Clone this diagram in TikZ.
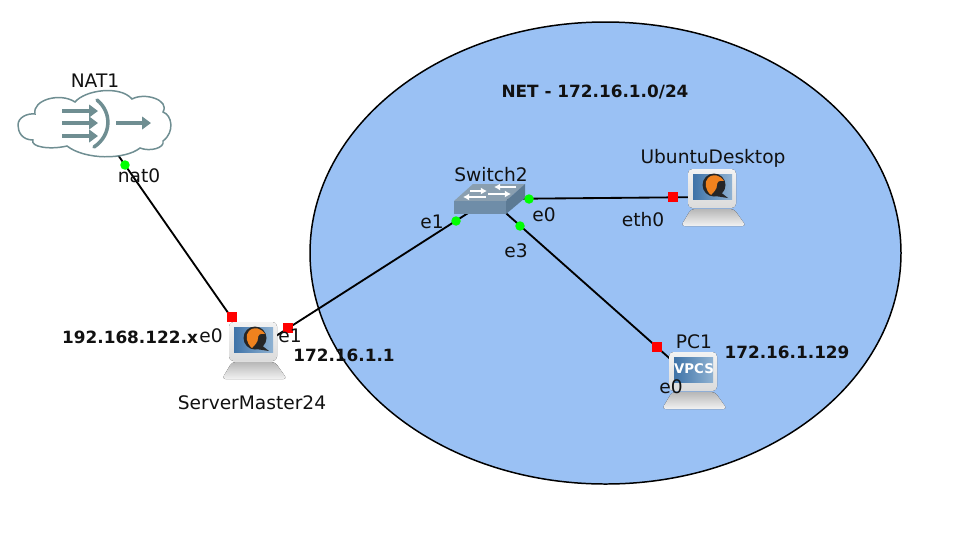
\documentclass[tikz,border=0pt]{standalone}
\usepackage{fontspec}
\setmainfont{DejaVu Sans}
\usetikzlibrary{calc,arrows.meta,positioning,shapes.geometric}
\definecolor{netblue}{HTML}{9AC1F4}
\definecolor{natgray}{HTML}{6F8E92}
\definecolor{scrblue}{HTML}{3F73A8}
\definecolor{scrlight}{HTML}{8FB2D2}
\definecolor{swtop}{HTML}{8A9FB0}
\definecolor{swfront}{HTML}{6F8DA8}
\definecolor{swside}{HTML}{5C7A94}
\definecolor{birdorange}{HTML}{F0821E}
\definecolor{darktext}{HTML}{111111}
% computer drawn round a named node
\newcommand{\hostbody}[1]{
\begin{scope}[shift={(#1.center)}]
\fill[top color=black!28,bottom color=black!5,rounded corners=2pt] (-22,12)--(21,12)--(33,29)--(-32,29)--cycle;
\fill[top color=black!5,bottom color=black!14,rounded corners=2.5pt] (-25,-28) rectangle (23,11);
\fill[left color=scrblue,right color=scrlight] (-20,-23) rectangle (19,2);
\end{scope}}
\newcommand{\qemulogo}[1]{
\begin{scope}[shift={(#1.center)}]
\fill[black!85] (1,-12) circle (11.5);
\fill[black!85] (6,-6)--(15,1)--(2,-1)--cycle;
\fill[birdorange] (-5,-19) .. controls (0,-24) and (7,-22) .. (11,-16) .. controls (6,-17) and (4,-15) .. (4,-12) .. controls (4,-8) and (1,-5) .. (-2,-2) .. controls (-8,-7) and (-9,-15) .. (-5,-19);
\end{scope}}
\begin{document}
\begin{tikzpicture}[x=0.02cm,y=-0.02cm,font=\fontsize{10.6}{12}\selectfont,
  hostnode/.style={inner sep=0pt,minimum width=1cm,minimum height=1cm},
  lnk/.style={black,line width=1.05pt},
  updot/.style={circle,fill=green,inner sep=0pt,minimum size=5.4pt},
  downdot/.style={rectangle,fill=red,inner sep=0pt,minimum size=5.6pt},
  lbl/.style={text=darktext,inner sep=0pt},
  boldlbl/.style={text=darktext,inner sep=0pt,font=\fontsize{9.6}{11}\selectfont\bfseries}]
\useasboundingbox (0,0) rectangle (969,538);
\fill[netblue] (605.5,253) ellipse (295.5 and 231);
\draw[black,line width=0.85pt] (605.5,253) ellipse (295.5 and 231);
% nodes first, icons go on top of the links
\node[hostnode] (nat) at (95,122){};\node[hostnode] (server) at (254,350){};\node[hostnode] (switch) at (490,199){};\node[hostnode] (ubuntu) at (713,197){};\node[hostnode] (pc) at (694,380){};
\draw[lnk] (nat.center)--(server.center);
\draw[lnk] (server.center)--(switch.center);
\draw[lnk] (switch.center)--(ubuntu.center);
\draw[lnk] (switch.center)--(pc.center);
% cloud
\draw[natgray,fill=white,line width=0.85pt] (18,125) .. controls (18,117) and (28,113) .. (35,114) .. controls (32,100) and (60,92) .. (75,102) .. controls (85,90) and (120,85) .. (132,99) .. controls (145,92) and (170,100) .. (163,112) .. controls (172,115) and (175,132) .. (163,141) .. controls (165,148) and (150,152) .. (140,148) .. controls (125,160) and (85,160) .. (67,146) .. controls (50,150) and (30,147) .. (33,140) .. controls (22,140) and (18,132) .. (18,125);
\foreach \yy in {111,123,136}{\draw[natgray,line width=2.6pt,-{Triangle[length=5pt,width=7pt]}] (62,\yy)--(98,\yy);}
\draw[natgray,line width=2pt,line cap=round] (97,100) .. controls (112,112) and (112,135) .. (94,147);
\draw[natgray,line width=2pt,-{Triangle[length=5pt,width=7pt]}] (116,123)--(151,123);
% switch
\fill[swtop] (454,201)--(473,184)--(525,184)--(506,201)--cycle;
\fill[swfront] (454,201)--(506,201)--(506,214)--(454,214)--cycle;
\fill[swside] (506,201)--(525,184)--(525,198)--(506,214)--cycle;
\draw[white,line width=1.4pt,-{Latex[length=3.5pt,width=4pt]}] (470,191)--(487,191);
\draw[white,line width=1.4pt,-{Latex[length=3.5pt,width=4pt]}] (516,187)--(494,187);
\draw[white,line width=1.4pt,-{Latex[length=3.5pt,width=4pt]}] (486,197)--(463,197);
\draw[white,line width=1.4pt,-{Latex[length=3.5pt,width=4pt]}] (488,194)--(511,194);
% computers
\hostbody{server}\qemulogo{server}
\hostbody{ubuntu}\qemulogo{ubuntu}
\hostbody{pc}
\node[text=white,inner sep=0pt,font=\fontsize{7.6}{8}\selectfont\bfseries] (vpcs) at ($(pc.center)+(0,-11)$){VPCS};
% port states
\node[updot] (natport) at (125,165){};
\node[downdot] (srvport0) at (232,317){};
\node[downdot] (srvport1) at (288,328){};
\node[updot] (swport1) at (456,221){};
\node[updot] (swport0) at (529,199){};
\node[updot] (swport3) at (520,226){};
\node[downdot] (ubport) at (673,197){};
\node[downdot] (pcport) at (657,347){};
% labels
\node[lbl] (natname) at (95,81){NAT1};
\node[lbl] (natif) at (139,176){nat0};
\node[boldlbl] (srvip0) at (130,337){192.168.122.x};
\node[lbl] (srvif0) at (211,336){e0};
\node[lbl] (srvif1) at (290,336){e1};
\node[boldlbl] (srvip1) at (344,355){172.16.1.1};
\node[lbl] (srvname) at (252,403){ServerMaster24};
\node[lbl] (swname) at (491,175){Switch2};
\node[lbl] (swif1) at (432,222){e1};
\node[lbl] (swif0) at (544,215){e0};
\node[lbl] (swif3) at (516,251){e3};
\node[lbl] (ubname) at (713,158){UbuntuDesktop};
\node[lbl] (ubif) at (643,220){eth0};
\node[lbl] (pcname) at (694,342){PC1};
\node[boldlbl] (pcip) at (787,352){172.16.1.129};
\node[lbl] (pcif) at (671,387){e0};
\node[boldlbl] (netname) at (595,92){NET - 172.16.1.0/24};
\end{tikzpicture}
\end{document}
